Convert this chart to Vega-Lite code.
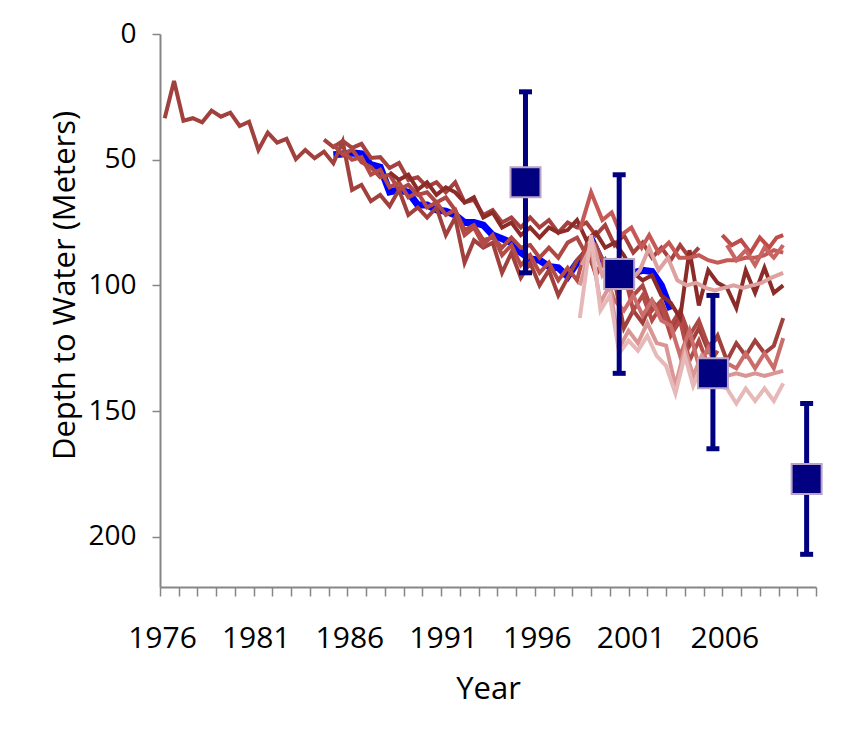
{
  "$schema": "https://vega.github.io/schema/vega-lite/v6.json",
  "width": 656,
  "height": 553,
  "autosize": {"type": "none"},
  "padding": {"left": 160, "top": 34, "right": 47, "bottom": 143},
  "background": "white",
  "config": {"view": {"stroke": null}, "font": "Open Sans", "axis": {"labelFont": "Open Sans", "titleFont": "Open Sans", "grid": false}},
  "datasets": {
    "wells": [
      {"series":"A","year":1975.75,"depth":33.5},{"series":"A","year":1976.25,"depth":18.7},{"series":"A","year":1976.75,"depth":34.5},{"series":"A","year":1977.25,"depth":33.5},{"series":"A","year":1977.75,"depth":35.1},{"series":"A","year":1978.25,"depth":30.5},{"series":"A","year":1978.75,"depth":32.9},{"series":"A","year":1979.25,"depth":31.3},{"series":"A","year":1979.75,"depth":36.6},{"series":"A","year":1980.25,"depth":34.9},{"series":"A","year":1980.75,"depth":46.1},{"series":"A","year":1981.25,"depth":39.2},{"series":"A","year":1981.75,"depth":43.2},{"series":"A","year":1982.25,"depth":41.7},{"series":"A","year":1982.75,"depth":49.8},{"series":"A","year":1983.25,"depth":46.1},{"series":"A","year":1983.75,"depth":49.4},{"series":"A","year":1984.25,"depth":46.8},{"series":"A","year":1984.75,"depth":51.4},{"series":"A","year":1985.25,"depth":42.8},{"series":"A","year":1985.75,"depth":62},{"series":"A","year":1986.25,"depth":60},{"series":"A","year":1986.75,"depth":66.5},{"series":"A","year":1987.25,"depth":64},{"series":"A","year":1987.75,"depth":68.5},{"series":"A","year":1988.25,"depth":62},{"series":"A","year":1988.75,"depth":72},{"series":"A","year":1989.25,"depth":69},{"series":"A","year":1989.75,"depth":73},{"series":"A","year":1990.25,"depth":69},{"series":"A","year":1990.75,"depth":80},{"series":"A","year":1991.25,"depth":73},{"series":"A","year":1991.75,"depth":91},{"series":"A","year":1992.25,"depth":82},{"series":"A","year":1992.75,"depth":85},{"series":"A","year":1993.25,"depth":83},{"series":"A","year":1993.75,"depth":95},{"series":"A","year":1994.25,"depth":87},{"series":"A","year":1994.75,"depth":97},{"series":"A","year":1995.25,"depth":91},{"series":"A","year":1995.75,"depth":100},{"series":"A","year":1996.25,"depth":94},{"series":"A","year":1996.75,"depth":104},{"series":"A","year":1997.25,"depth":97},{"series":"A","year":1997.75,"depth":90},{"series":"A","year":1998.25,"depth":86},{"series":"A","year":1998.75,"depth":95},{"series":"A","year":1999.25,"depth":90},{"series":"A","year":1999.75,"depth":98},{"series":"A","year":2000.25,"depth":117},{"series":"A","year":2000.75,"depth":110},{"series":"A","year":2001.25,"depth":115},{"series":"A","year":2001.75,"depth":106},{"series":"A","year":2002.25,"depth":111},{"series":"A","year":2002.75,"depth":118},{"series":"A","year":2003.25,"depth":112},{"series":"A","year":2003.75,"depth":124},{"series":"A","year":2004.25,"depth":117},{"series":"A","year":2004.75,"depth":126},{"series":"A","year":2005.25,"depth":120},{"series":"A","year":2005.75,"depth":130},{"series":"A","year":2006.25,"depth":123},{"series":"A","year":2006.75,"depth":128},{"series":"A","year":2007.25,"depth":122},{"series":"A","year":2007.75,"depth":127},{"series":"A","year":2008.25,"depth":124},{"series":"A","year":2008.75,"depth":113},

      {"series":"B","year":1984.25,"depth":42},{"series":"B","year":1984.75,"depth":45},{"series":"B","year":1985.25,"depth":42.5},{"series":"B","year":1985.75,"depth":45.3},{"series":"B","year":1986.25,"depth":43.7},{"series":"B","year":1986.75,"depth":49.3},{"series":"B","year":1987.25,"depth":49},{"series":"B","year":1987.75,"depth":53.3},{"series":"B","year":1988.25,"depth":51.3},{"series":"B","year":1988.75,"depth":58},{"series":"B","year":1989.25,"depth":57},{"series":"B","year":1989.75,"depth":60.8},{"series":"B","year":1990.25,"depth":59},{"series":"B","year":1990.75,"depth":63},{"series":"B","year":1991.25,"depth":59},{"series":"B","year":1991.75,"depth":67},{"series":"B","year":1992.25,"depth":66},{"series":"B","year":1992.75,"depth":72},{"series":"B","year":1993.25,"depth":70},{"series":"B","year":1993.75,"depth":75},{"series":"B","year":1994.25,"depth":73},{"series":"B","year":1994.75,"depth":77},{"series":"B","year":1995.25,"depth":73},{"series":"B","year":1995.75,"depth":77},{"series":"B","year":1996.25,"depth":74},{"series":"B","year":1996.75,"depth":79},{"series":"B","year":1997.25,"depth":75},{"series":"B","year":1997.75,"depth":77},{"series":"B","year":1998.25,"depth":75},{"series":"B","year":1998.75,"depth":80},{"series":"B","year":1999.25,"depth":76},{"series":"B","year":1999.75,"depth":84},{"series":"B","year":2000.25,"depth":80},{"series":"B","year":2000.75,"depth":87},{"series":"B","year":2001.25,"depth":83},{"series":"B","year":2001.75,"depth":89},{"series":"B","year":2002.25,"depth":85},{"series":"B","year":2002.75,"depth":90},{"series":"B","year":2003.25,"depth":84},{"series":"B","year":2003.75,"depth":89},{"series":"B","year":2004.25,"depth":85},

      {"series":"C","year":1984.75,"depth":44},{"series":"C","year":1985.25,"depth":48},{"series":"C","year":1985.75,"depth":46},{"series":"C","year":1986.25,"depth":51},{"series":"C","year":1986.75,"depth":53},{"series":"C","year":1987.25,"depth":57},{"series":"C","year":1987.75,"depth":56},{"series":"C","year":1988.25,"depth":62},{"series":"C","year":1988.75,"depth":60},{"series":"C","year":1989.25,"depth":64},{"series":"C","year":1989.75,"depth":63},{"series":"C","year":1990.25,"depth":67},{"series":"C","year":1990.75,"depth":65},{"series":"C","year":1991.25,"depth":70},{"series":"C","year":1991.75,"depth":78},{"series":"C","year":1992.25,"depth":76},{"series":"C","year":1992.75,"depth":82},{"series":"C","year":1993.25,"depth":81},{"series":"C","year":1993.75,"depth":85},{"series":"C","year":1994.25,"depth":81},{"series":"C","year":1994.75,"depth":85},{"series":"C","year":1995.25,"depth":84},{"series":"C","year":1995.75,"depth":89},{"series":"C","year":1996.25,"depth":85},{"series":"C","year":1996.75,"depth":89},{"series":"C","year":1997.25,"depth":83},{"series":"C","year":1997.75,"depth":81},{"series":"C","year":1998.25,"depth":88},{"series":"C","year":1998.75,"depth":84},{"series":"C","year":1999.25,"depth":92},{"series":"C","year":1999.75,"depth":90},{"series":"C","year":2000.25,"depth":96},{"series":"C","year":2000.75,"depth":104},{"series":"C","year":2001.25,"depth":100},{"series":"C","year":2001.75,"depth":110},{"series":"C","year":2002.25,"depth":106},{"series":"C","year":2002.75,"depth":116},{"series":"C","year":2003.25,"depth":110},{"series":"C","year":2003.75,"depth":120},{"series":"C","year":2004.25,"depth":114},{"series":"C","year":2004.75,"depth":124},{"series":"C","year":2005.25,"depth":121},

      {"series":"K","year":1985.25,"depth":47},{"series":"K","year":1985.75,"depth":50},{"series":"K","year":1986.25,"depth":49},{"series":"K","year":1986.75,"depth":56},{"series":"K","year":1987.25,"depth":54},{"series":"K","year":1987.75,"depth":61},{"series":"K","year":1988.25,"depth":59},{"series":"K","year":1988.75,"depth":65},{"series":"K","year":1989.25,"depth":63},{"series":"K","year":1989.75,"depth":69},{"series":"K","year":1990.25,"depth":67},{"series":"K","year":1990.75,"depth":72},{"series":"K","year":1991.25,"depth":70},{"series":"K","year":1991.75,"depth":80},{"series":"K","year":1992.25,"depth":77},{"series":"K","year":1992.75,"depth":84},{"series":"K","year":1993.25,"depth":80},{"series":"K","year":1993.75,"depth":88},{"series":"K","year":1994.25,"depth":84},{"series":"K","year":1994.75,"depth":92},{"series":"K","year":1995.25,"depth":88},{"series":"K","year":1995.75,"depth":95},{"series":"K","year":1996.25,"depth":91},{"series":"K","year":1996.75,"depth":98},{"series":"K","year":1997.25,"depth":93},{"series":"K","year":1997.75,"depth":98},{"series":"K","year":1998.25,"depth":84},{"series":"K","year":1998.75,"depth":96},{"series":"K","year":1999.25,"depth":90},{"series":"K","year":1999.75,"depth":99},{"series":"K","year":2000.25,"depth":95},{"series":"K","year":2000.75,"depth":110},{"series":"K","year":2001.25,"depth":104},{"series":"K","year":2001.75,"depth":114},{"series":"K","year":2002.25,"depth":108},{"series":"K","year":2002.75,"depth":120},{"series":"K","year":2003.25,"depth":114},{"series":"K","year":2003.75,"depth":130},{"series":"K","year":2004.25,"depth":122},{"series":"K","year":2004.75,"depth":132},{"series":"K","year":2005.25,"depth":126},

      {"series":"M","year":1987.75,"depth":55},{"series":"M","year":1988.25,"depth":58},{"series":"M","year":1988.75,"depth":56},{"series":"M","year":1989.25,"depth":62},{"series":"M","year":1989.75,"depth":59},{"series":"M","year":1990.25,"depth":64},{"series":"M","year":1990.75,"depth":61},{"series":"M","year":1991.25,"depth":63},{"series":"M","year":1991.75,"depth":67},{"series":"M","year":1992.25,"depth":65},{"series":"M","year":1992.75,"depth":73},{"series":"M","year":1993.25,"depth":71},{"series":"M","year":1993.75,"depth":77},{"series":"M","year":1994.25,"depth":75},{"series":"M","year":1994.75,"depth":80},{"series":"M","year":1995.25,"depth":77},{"series":"M","year":1995.75,"depth":81},{"series":"M","year":1996.25,"depth":77},{"series":"M","year":1996.75,"depth":79},{"series":"M","year":1997.25,"depth":78},{"series":"M","year":1997.75,"depth":74},{"series":"M","year":1998.25,"depth":82},{"series":"M","year":1998.75,"depth":79},{"series":"M","year":1999.25,"depth":85},{"series":"M","year":1999.75,"depth":83},{"series":"M","year":2000.25,"depth":88},{"series":"M","year":2000.75,"depth":95},{"series":"M","year":2001.25,"depth":98},{"series":"M","year":2001.75,"depth":96},{"series":"M","year":2002.25,"depth":104},{"series":"M","year":2002.75,"depth":107},{"series":"M","year":2003.25,"depth":113},{"series":"M","year":2003.75,"depth":86},{"series":"M","year":2004.25,"depth":108},{"series":"M","year":2004.75,"depth":94},{"series":"M","year":2005.25,"depth":99},{"series":"M","year":2005.75,"depth":101},{"series":"M","year":2006.25,"depth":109},{"series":"M","year":2006.75,"depth":94},{"series":"M","year":2007.25,"depth":103},{"series":"M","year":2007.75,"depth":93},{"series":"M","year":2008.25,"depth":103},{"series":"M","year":2008.75,"depth":100},

      {"series":"D","year":1997.9,"depth":78},{"series":"D","year":1998.5,"depth":63},{"series":"D","year":1999.1,"depth":74},{"series":"D","year":1999.6,"depth":71},{"series":"D","year":2000.1,"depth":80},{"series":"D","year":2000.65,"depth":77},{"series":"D","year":2001.2,"depth":85},{"series":"D","year":2001.6,"depth":80},{"series":"D","year":2002.1,"depth":87},{"series":"D","year":2002.65,"depth":83},{"series":"D","year":2003.2,"depth":89},{"series":"D","year":2003.75,"depth":89},{"series":"D","year":2004.25,"depth":88},{"series":"D","year":2004.75,"depth":90},{"series":"D","year":2005.25,"depth":91},{"series":"D","year":2005.75,"depth":90},{"series":"D","year":2006.25,"depth":90},{"series":"D","year":2006.75,"depth":89},{"series":"D","year":2007.25,"depth":89},{"series":"D","year":2007.75,"depth":88},{"series":"D","year":2008.25,"depth":86},{"series":"D","year":2008.75,"depth":87},

      {"series":"E2","year":2005.5,"depth":80},{"series":"E2","year":2006,"depth":84},{"series":"E2","year":2006.5,"depth":82},{"series":"E2","year":2007,"depth":87},{"series":"E2","year":2007.5,"depth":81},{"series":"E2","year":2008,"depth":85},{"series":"E2","year":2008.4,"depth":81},{"series":"E2","year":2008.75,"depth":80},

      {"series":"E3","year":2005.75,"depth":84},{"series":"E3","year":2006.25,"depth":90},{"series":"E3","year":2006.75,"depth":86},{"series":"E3","year":2007.25,"depth":92},{"series":"E3","year":2007.75,"depth":85},{"series":"E3","year":2008.25,"depth":89},{"series":"E3","year":2008.75,"depth":84},

      {"series":"F","year":1999.25,"depth":96},{"series":"F","year":1999.75,"depth":106},{"series":"F","year":2000.25,"depth":110},{"series":"F","year":2000.75,"depth":104},{"series":"F","year":2001.25,"depth":112},{"series":"F","year":2001.75,"depth":106},{"series":"F","year":2002.25,"depth":114},{"series":"F","year":2002.75,"depth":116},{"series":"F","year":2003.25,"depth":128},{"series":"F","year":2003.75,"depth":118},{"series":"F","year":2004.25,"depth":132},{"series":"F","year":2004.75,"depth":125},{"series":"F","year":2005.25,"depth":134},{"series":"F","year":2005.75,"depth":131},{"series":"F","year":2006.25,"depth":133},{"series":"F","year":2006.75,"depth":127},{"series":"F","year":2007.25,"depth":133},{"series":"F","year":2007.75,"depth":127},{"series":"F","year":2008.25,"depth":133},{"series":"F","year":2008.75,"depth":121},

      {"series":"I","year":1998.0,"depth":92},{"series":"I","year":1998.6,"depth":83},{"series":"I","year":1999.1,"depth":96},{"series":"I","year":1999.6,"depth":91},{"series":"I","year":2000.1,"depth":100},{"series":"I","year":2000.6,"depth":98},{"series":"I","year":2001.1,"depth":94},{"series":"I","year":2001.6,"depth":85},{"series":"I","year":2002.1,"depth":94},{"series":"I","year":2002.6,"depth":89},{"series":"I","year":2003.1,"depth":98},{"series":"I","year":2003.6,"depth":100},{"series":"I","year":2004.1,"depth":99},{"series":"I","year":2004.6,"depth":101},{"series":"I","year":2005.1,"depth":102},{"series":"I","year":2005.6,"depth":101},{"series":"I","year":2006.1,"depth":100},{"series":"I","year":2006.6,"depth":101},{"series":"I","year":2007.1,"depth":100},{"series":"I","year":2007.6,"depth":99},{"series":"I","year":2008.1,"depth":97},{"series":"I","year":2008.75,"depth":95},

      {"series":"G","year":1997.9,"depth":100},{"series":"G","year":1998.5,"depth":85},{"series":"G","year":1999.0,"depth":107},{"series":"G","year":1999.5,"depth":100},{"series":"G","year":2000.0,"depth":125},{"series":"G","year":2000.5,"depth":118},{"series":"G","year":2001.0,"depth":123},{"series":"G","year":2001.5,"depth":115},{"series":"G","year":2002.0,"depth":123},{"series":"G","year":2002.5,"depth":124},{"series":"G","year":2003.0,"depth":140},{"series":"G","year":2003.5,"depth":125},{"series":"G","year":2003.95,"depth":136},{"series":"G","year":2004.4,"depth":128},{"series":"G","year":2004.85,"depth":134},{"series":"G","year":2005.3,"depth":133},{"series":"G","year":2005.75,"depth":136},{"series":"G","year":2006.25,"depth":135},{"series":"G","year":2006.75,"depth":136},{"series":"G","year":2007.25,"depth":135},{"series":"G","year":2007.75,"depth":136},{"series":"G","year":2008.25,"depth":135},{"series":"G","year":2008.75,"depth":134},

      {"series":"H","year":1997.9,"depth":113},{"series":"H","year":1998.5,"depth":80},{"series":"H","year":1999.0,"depth":110},{"series":"H","year":1999.5,"depth":104},{"series":"H","year":2000.0,"depth":127},{"series":"H","year":2000.5,"depth":122},{"series":"H","year":2001.0,"depth":126},{"series":"H","year":2001.5,"depth":120},{"series":"H","year":2002.0,"depth":128},{"series":"H","year":2002.5,"depth":132},{"series":"H","year":2003.0,"depth":143},{"series":"H","year":2003.5,"depth":128},{"series":"H","year":2003.95,"depth":140},{"series":"H","year":2004.4,"depth":132},{"series":"H","year":2004.85,"depth":138},{"series":"H","year":2005.3,"depth":140},{"series":"H","year":2005.75,"depth":141},{"series":"H","year":2006.25,"depth":147},{"series":"H","year":2006.75,"depth":141},{"series":"H","year":2007.25,"depth":146},{"series":"H","year":2007.75,"depth":141},{"series":"H","year":2008.25,"depth":146},{"series":"H","year":2008.75,"depth":139},

      {"series":"Average","year":1984.75,"depth":48},{"series":"Average","year":1985.25,"depth":47.7},{"series":"Average","year":1985.75,"depth":47.3},{"series":"Average","year":1986.25,"depth":47.7},{"series":"Average","year":1986.75,"depth":52},{"series":"Average","year":1987.25,"depth":53},{"series":"Average","year":1987.75,"depth":62.8},{"series":"Average","year":1988.25,"depth":62},{"series":"Average","year":1988.75,"depth":63},{"series":"Average","year":1989.25,"depth":68},{"series":"Average","year":1989.75,"depth":68},{"series":"Average","year":1990.25,"depth":70},{"series":"Average","year":1990.75,"depth":70.5},{"series":"Average","year":1991.25,"depth":72},{"series":"Average","year":1991.75,"depth":75},{"series":"Average","year":1992.25,"depth":75},{"series":"Average","year":1992.75,"depth":76},{"series":"Average","year":1993.25,"depth":80},{"series":"Average","year":1993.75,"depth":81.5},{"series":"Average","year":1994.25,"depth":83},{"series":"Average","year":1994.75,"depth":87},{"series":"Average","year":1995.25,"depth":89.5},{"series":"Average","year":1995.75,"depth":90},{"series":"Average","year":1996.25,"depth":92.5},{"series":"Average","year":1996.75,"depth":93},{"series":"Average","year":1997.25,"depth":96.5},{"series":"Average","year":1997.75,"depth":91},{"series":"Average","year":1998.1,"depth":88},{"series":"Average","year":1998.6,"depth":83},{"series":"Average","year":1999.1,"depth":91},{"series":"Average","year":1999.75,"depth":91},{"series":"Average","year":2000.25,"depth":92},{"series":"Average","year":2000.75,"depth":95},{"series":"Average","year":2001.25,"depth":94},{"series":"Average","year":2001.75,"depth":94.5},{"series":"Average","year":2002.25,"depth":100},{"series":"Average","year":2002.75,"depth":109.7}
    ],
    "proj": [
      {"year": 1995, "mean": 59, "lo": 23, "hi": 95},
      {"year": 2000, "mean": 95.5, "lo": 56, "hi": 135},
      {"year": 2005, "mean": 135, "lo": 104, "hi": 165},
      {"year": 2010, "mean": 177, "lo": 147, "hi": 207}
    ]
  },
  "layer": [
    {
      "data": {"name": "wells"},
      "transform": [{"filter": "datum.series === 'Average'"}],
      "mark": {"type": "line", "color": "#0000FF", "strokeWidth": 7},
      "encoding": {
        "x": {"field": "year", "type": "quantitative", "scale": {"domain": [1975.5, 2010.5], "nice": false, "zero": false},
          "axis": {"title": "Year", "values": [1975.5,1976.5,1977.5,1978.5,1979.5,1980.5,1981.5,1982.5,1983.5,1984.5,1985.5,1986.5,1987.5,1988.5,1989.5,1990.5,1991.5,1992.5,1993.5,1994.5,1995.5,1996.5,1997.5,1998.5,1999.5,2000.5,2001.5,2002.5,2003.5,2004.5,2005.5,2006.5,2007.5,2008.5,2009.5,2010.5],
            "tickCount": 100,
            "labelExpr": "((datum.value + 0.5 - 1976) % 5 == 0 && datum.value < 2009) ? format(datum.value + 0.5, 'd') : ''",
            "labelOffset": 2, "labelFlush": false, "labelOverlap": false, "labelBound": false,
            "labelFontSize": 30, "labelColor": "#000000", "labelBaseline": "alphabetic", "labelPadding": 51,
            "tickSize": 9, "tickColor": "#868686", "tickWidth": 1.5, "domainColor": "#868686", "domainWidth": 2,
            "titleFontSize": 31, "titleFontWeight": "normal", "titleColor": "#000000", "titleBaseline": "alphabetic", "titleY": 111}},
        "y": {"field": "depth", "type": "quantitative", "scale": {"domain": [0, 220], "reverse": true, "nice": false, "zero": false},
          "axis": {"title": "Depth to Water (Meters)", "values": [0, 50, 100, 150, 200], "format": "d",
            "labelFontSize": 28, "labelColor": "#000000", "labelPadding": 16,
            "tickSize": 8, "tickColor": "#868686", "tickWidth": 1.5, "domainColor": "#868686", "domainWidth": 2,
            "titleFontSize": 31, "titleFontWeight": "normal", "titleColor": "#000000", "titleAngle": 270, "titleBaseline": "alphabetic", "titleAlign": "center", "titleX": -86, "titleY": 251}}
      }
    },
    {
      "data": {"name": "wells"},
      "transform": [{"filter": "datum.series !== 'Average'"}],
      "mark": {"type": "line", "strokeWidth": 4},
      "encoding": {
        "x": {"field": "year", "type": "quantitative"},
        "y": {"field": "depth", "type": "quantitative"},
        "color": {"field": "series", "type": "nominal", "legend": null,
          "scale": {"domain": ["A","B","C","K","M","D","E2","E3","F","I","G","H"],
                    "range": ["#A0413E","#A5423F","#AE4844","#B44B47","#8B2C29","#C45956","#BE4C49","#C86562","#CB6D6A","#DDA2A0","#D99694","#E6B9B8"]}}
      }
    },
    {
      "data": {"name": "proj"},
      "mark": {"type": "rule", "color": "#000080", "strokeWidth": 5},
      "encoding": {
        "x": {"field": "year", "type": "quantitative"},
        "y": {"field": "lo", "type": "quantitative"},
        "y2": {"field": "hi"}
      }
    },
    {
      "data": {"name": "proj"},
      "transform": [{"fold": ["lo", "hi"], "as": ["end", "depth"]}],
      "mark": {"type": "tick", "color": "#000080", "orient": "horizontal", "size": 13, "thickness": 5, "opacity": 1},
      "encoding": {
        "x": {"field": "year", "type": "quantitative"},
        "y": {"field": "depth", "type": "quantitative"}
      }
    },
    {
      "data": {"name": "proj"},
      "mark": {"type": "point", "shape": "square", "filled": true, "size": 900, "fill": "#000080", "stroke": "#B9A3C6", "strokeWidth": 2, "opacity": 1},
      "encoding": {
        "x": {"field": "year", "type": "quantitative"},
        "y": {"field": "mean", "type": "quantitative"}
      }
    }
  ]
}
